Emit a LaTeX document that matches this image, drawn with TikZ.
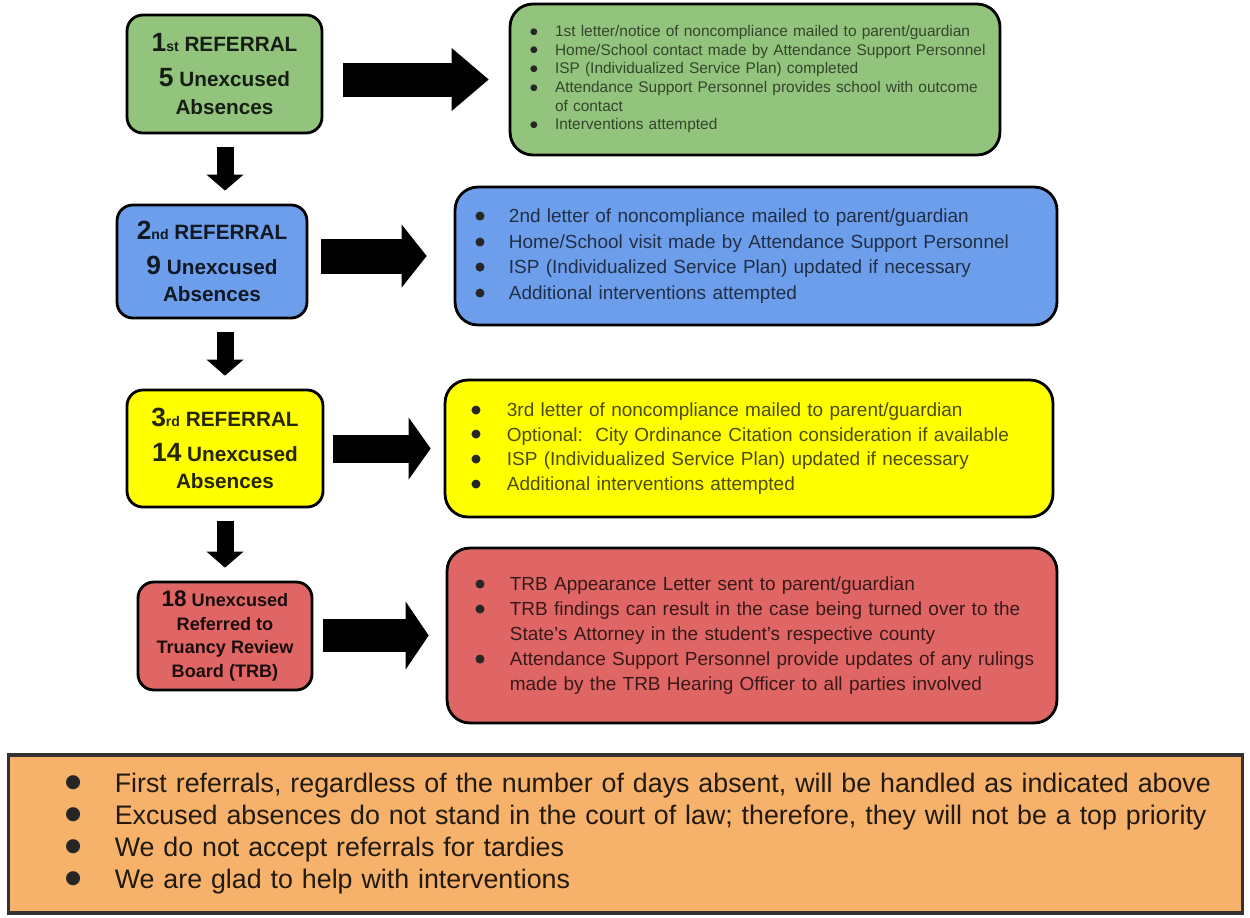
\documentclass[tikz,border=0pt]{standalone}
\usepackage{fontspec}
\setmainfont{Liberation Sans}
\newfontfamily\dotfont{DejaVu Sans}
\usetikzlibrary{arrows.meta}

\definecolor{grnfill}{HTML}{93C47D}
\definecolor{blufill}{HTML}{6D9EEB}
\definecolor{ylwfill}{HTML}{FFFF00}
\definecolor{redfill}{HTML}{E06666}
\definecolor{orgfill}{HTML}{F6B26B}

\newcommand{\ordnum}[2]{{\fontsize{15}{15}\selectfont #1}{\fontsize{8}{8}\selectfont #2}}
\newcommand{\bignum}[1]{{\fontsize{15}{15}\selectfont #1}}
\newcommand{\dotmark}[1][6.5]{\leavevmode\textcolor{black!85}{\dotfont\fontsize{#1}{#1}\selectfont\raisebox{0.28em}{●}}}

\tikzset{
  refbox/.style={draw=black, line width=1.6pt, rounded corners=9pt, inner sep=0pt, align=center,
    font=\bfseries\fontsize{11.8}{15.8}\selectfont},
  infobox/.style={draw=black, line width=1.6pt, rounded corners=13pt, inner sep=0pt, align=left,
    font=\fontsize{10.8}{14.4}\selectfont},
  notebox/.style={draw=black!80, line width=1.8pt, inner sep=0pt, align=left,
    fill=orgfill, text=orgfill!14!black, font=\fontsize{15.25}{18.3}\selectfont},
}

\begin{document}
\begin{tikzpicture}[x=0.02cm, y=-0.02cm, >=stealth]
\useasboundingbox (0,0) rectangle (1250,917);

%% 第一次转介
\node[refbox, fill=grnfill, text=grnfill!15!black, minimum width=3.9cm, minimum height=2.36cm] (g1) at (224.5,74)
    {\ordnum{1}{st} REFERRAL\\[4pt] \bignum{5} Unexcused\\ Absences};
\node[infobox, fill=grnfill, text=grnfill!35!black, minimum width=9.8cm, minimum height=3.02cm, text width=9.0cm,
    font=\fontsize{8.8}{10.6}\selectfont] (g2) at (755,79.5)
{\begin{tabular}{@{}p{14.2pt}@{}l@{}}
\dotmark[5] & 1st letter/notice of noncompliance mailed to parent/guardian\\
\dotmark[5] & Home/School contact made by Attendance Support Personnel\\
\dotmark[5] & ISP (Individualized Service Plan) completed\\
\dotmark[5] & Attendance Support Personnel provides school with outcome\\
            & of contact\\
\dotmark[5] & Interventions attempted
\end{tabular}};

%% 第二次转介
\node[refbox, fill=blufill, text=blufill!15!black, minimum width=3.8cm, minimum height=2.26cm] (b1) at (212,261.5)
    {\ordnum{2}{nd} REFERRAL\\[4pt] \bignum{9} Unexcused\\ Absences};
\node[infobox, fill=blufill, text=blufill!30!black, minimum width=12.04cm, minimum height=2.76cm, text width=11.24cm,
    font=\fontsize{10.8}{14.6}\selectfont] (b2) at (756,256)
{\begin{tabular}{@{}p{19.3pt}@{}l@{}}
\dotmark & 2nd letter of noncompliance mailed to parent/guardian\\
\dotmark & Home/School visit made by Attendance Support Personnel\\
\dotmark & ISP (Individualized Service Plan) updated if necessary\\
\dotmark & Additional interventions attempted
\end{tabular}};

%% 第三次转介
\node[refbox, fill=ylwfill, text=ylwfill!15!black, minimum width=3.92cm, minimum height=2.34cm] (y1) at (225,448.5)
    {\ordnum{3}{rd} REFERRAL\\[4pt] \bignum{14} Unexcused\\ Absences};
\node[infobox, fill=ylwfill, text=ylwfill!30!black, minimum width=12.16cm, minimum height=2.74cm, text width=11.12cm,
    font=\fontsize{10.8}{14}\selectfont] (y2) at (749,448.5)
{\begin{tabular}{@{}p{20.4pt}@{}l@{}}
\dotmark & 3rd letter of noncompliance mailed to parent/guardian\\
\dotmark & Optional:\ \ City Ordinance Citation consideration if available\\
\dotmark & ISP (Individualized Service Plan) updated if necessary\\
\dotmark & Additional interventions attempted
\end{tabular}};

%% 逃学审查委员会
\node[refbox, fill=redfill, text=redfill!12!black, minimum width=3.48cm, minimum height=2.16cm,
    font=\bfseries\fontsize{10.3}{13.6}\selectfont] (r1) at (225,636)
    {{\fontsize{12.8}{12.8}\selectfont 18} Unexcused\\ Referred to\\ Truancy Review\\ Board (TRB)};
\node[infobox, fill=redfill, text=redfill!25!black, minimum width=12.2cm, minimum height=3.5cm, text width=11.08cm,
    font=\fontsize{10.8}{14.3}\selectfont] (r2) at (752,635.5)
{\begin{tabular}{@{}p{19.8pt}@{}l@{}}
\dotmark & TRB Appearance Letter sent to parent/guardian\\
\dotmark & TRB findings can result in the case being turned over to the\\
         & State's Attorney in the student's respective county\\
\dotmark & Attendance Support Personnel provide updates of any rulings\\
         & made by the TRB Hearing Officer to all parties involved
\end{tabular}};

%% 横向箭头: 起点缩进/终点缩进/线宽/箭头长/箭头宽 (cm)
\foreach \a/\b/\sa/\sb/\lw/\hl/\hw in {g1/g2/0.4/0.4/0.68/0.74/1.26, b1/b2/0.26/0.54/0.7/0.5/1.26,
    y1/y2/0.18/0.26/0.56/0.44/1.24, r1/r2/0.2/0.34/0.66/0.46/1.36}
{
    \draw [line width=\lw cm, shorten <=\sa cm, shorten >=\sb cm,
        -{Triangle[length=\hl cm, width=\hw cm, line width=0pt]}] (\a.east |- \b.west) -- (\b.west);
}

%% 向下箭头
\foreach \a/\b in {g1/b1, b1/y1, y1/r1}
{
    \draw [line width=0.34cm, shorten <=0.26cm, shorten >=0.26cm,
        -{Triangle[length=0.32cm, width=0.74cm, line width=0pt]}] (\a.south -| r1.north) -- (\b.north -| r1.north);
}

%% 说明
\node[notebox, minimum width=24.7cm, minimum height=3.16cm, text width=22.42cm] (note) at (625.5,834)
{\begin{tabular}{@{}p{28.3pt}@{}l@{}}
\dotmark[10.5] & First referrals, regardless of the number of days absent, will be handled as indicated above\\
\dotmark[10.5] & Excused absences do not stand in the court of law; therefore, they will not be a top priority\\
\dotmark[10.5] & We do not accept referrals for tardies\\
\dotmark[10.5] & We are glad to help with interventions
\end{tabular}};

\end{tikzpicture}
\end{document}
